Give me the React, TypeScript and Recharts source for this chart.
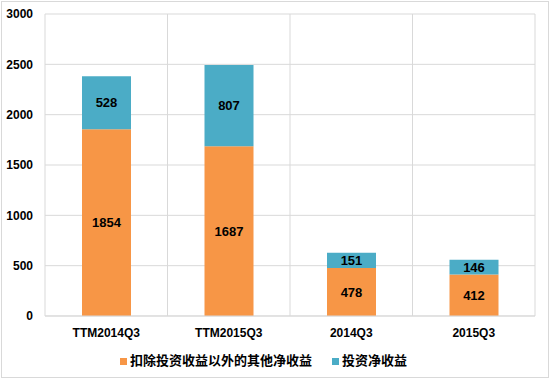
import React from 'react';
import { Bar, BarChart, CartesianGrid, LabelList, Legend, XAxis, YAxis } from 'recharts';

// 单位与原图一致
const categories = ['TTM2014Q3', 'TTM2015Q3', '2014Q3', '2015Q3'];
const otherIncome = [1854, 1687, 478, 412];
const investIncome = [528, 807, 151, 146];
const yTicks = [0, 500, 1000, 1500, 2000, 2500, 3000];

const data = categories.map((name, i) => ({
  name,
  other: otherIncome[i],
  invest: investIncome[i],
}));

const font = '"Liberation Sans", Arial, "Noto Sans CJK SC", sans-serif';
const cjkFont = '"Noto Sans CJK SC", "Liberation Sans", sans-serif';

const App = () => {
  return (
    <div
      style={{
        position: 'absolute',
        left: 0,
        top: 0,
        width: 550,
        height: 379,
        background: '#fff',
      }}
    >
      <div
        style={{
          position: 'absolute',
          left: 1,
          top: 1,
          width: 546,
          height: 375,
          border: '1px solid #d9d9d9',
          pointerEvents: 'none',
        }}
      />
      <BarChart
        width={550}
        height={379}
        data={data}
        margin={{ top: 14, right: 15, bottom: 0, left: 0 }}
      >
        <CartesianGrid
          stroke="#d9d9d9"
          verticalCoordinatesGenerator={(p: any) => {
            const left = p?.offset?.left ?? 45;
            const w = p?.offset?.width ?? 490;
            return [0, 1, 2, 3, 4].map((i) => left + (i * w) / 4);
          }}
        />
        <XAxis
          dataKey="name"
          height={38}
          tickLine={false}
          axisLine={{ stroke: '#d9d9d9' }}
          tick={{ fontSize: 12, fontWeight: 'bold', fill: '#000', fontFamily: font }}
          tickMargin={6}
        />
        <YAxis
          width={45}
          domain={[0, 3000]}
          ticks={yTicks}
          axisLine={false}
          tickLine={false}
          tick={{ fontSize: 12, fontWeight: 'bold', fill: '#000', fontFamily: font }}
          tickMargin={6}
        />
        <Legend
          height={25}
          iconType="square"
          iconSize={7}
          wrapperStyle={{ fontFamily: cjkFont, fontSize: 13, fontWeight: 'bold', bottom: 4, left: 6 }}
          formatter={(v: string) => (
            <span style={{ color: '#000', marginLeft: -1, marginRight: 10 }}>{v}</span>
          )}
        />
        <Bar
          dataKey="other"
          name="扣除投资收益以外的其他净收益"
          stackId="a"
          fill="#F79646"
          barSize={49}
          isAnimationActive={false}
        >
          <LabelList
            dataKey="other"
            position="center"
            fill="#000"
            style={{ fontSize: 13, fontWeight: 'bold', fontFamily: font }}
          />
        </Bar>
        <Bar
          dataKey="invest"
          name="投资净收益"
          stackId="a"
          fill="#4BACC6"
          barSize={49}
          isAnimationActive={false}
        >
          <LabelList
            dataKey="invest"
            position="center"
            fill="#000"
            style={{ fontSize: 13, fontWeight: 'bold', fontFamily: font }}
          />
        </Bar>
      </BarChart>
    </div>
  );
};

export default App;
